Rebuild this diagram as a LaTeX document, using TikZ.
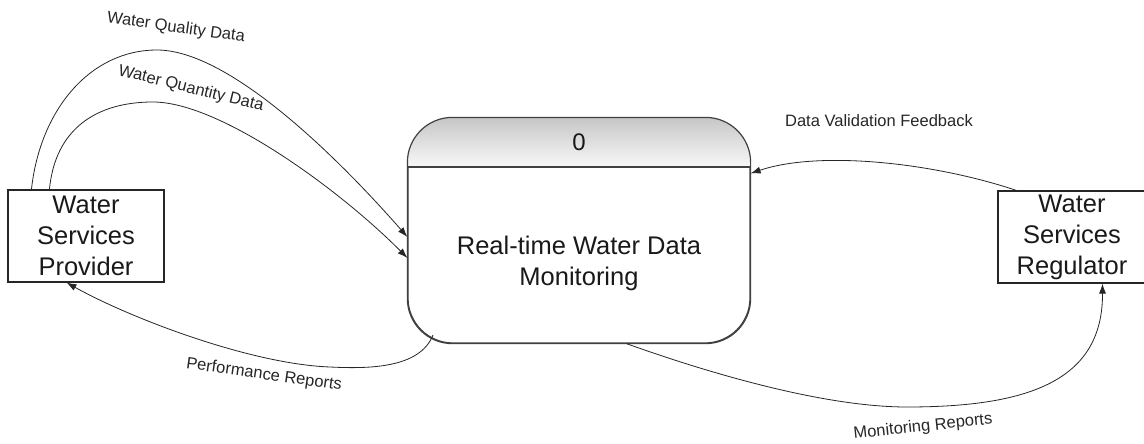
\documentclass[tikz,border=0pt]{standalone}
\usepackage{fontspec}
\setmainfont{Liberation Sans}
\usetikzlibrary{arrows.meta,calc}

\tikzset{
  entity/.style={draw=black!85, line width=1.1pt, inner sep=0pt,
    minimum height=92pt, align=center,
    font=\fontsize{25.5}{31}\selectfont, text=black!90},
  procbox/.style={draw=black!75, line width=1.2pt, rounded corners=45pt,
    inner sep=0pt, minimum width=342pt, minimum height=225pt},
  flow/.style={line width=0.8pt, draw=black!85,
    -{Latex[length=10pt,width=7pt]}},
  flowlabel/.style={font=\fontsize{16.5}{19}\selectfont, text=black!85,
    inner sep=0pt},
}

\begin{document}
\begin{tikzpicture}[x=1pt,y=-1pt]
\useasboundingbox (0,0) rectangle (1144,444);

% external entities
\node[entity, minimum width=156pt] (prov) at (86,236) {Water\\Services\\Provider};
\node[entity, minimum width=148pt] (reg) at (1072,237) {Water\\Services\\Regulator};

% process box with shaded header
\node[procbox] (proc) at (579,230.5) {};
\begin{scope}
  \clip[rounded corners=45pt] (proc.north west) rectangle (proc.south east);
  \shade[top color=black!22, bottom color=black!3]
    (proc.north west) rectangle (proc.north east |- 0,167);
\end{scope}
\draw[black!75, line width=1.2pt, rounded corners=45pt]
  (proc.north west) rectangle (proc.south east);
\draw[black!75, line width=1.2pt] (proc.west |- 0,167) -- (proc.east |- 0,167);
\node[font=\fontsize{24}{28}\selectfont, text=black!90] (pid) at (579,142.5) {0};
\node[font=\fontsize{25.5}{31}\selectfont, text=black!90, align=center]
  (ptext) at (579,263) {Real-time Water Data\\Monitoring};

% data flows
\draw[flow] ($(prov.north west)+(24,0)$)
  .. controls (40,110) and (90,50) .. (157,50)
  .. controls (230,50) and (340,160) .. ($(proc.west)+(0,6.5)$);
\draw[flow] ($(prov.north west)+(42,0)$)
  .. controls (55,130) and (95,102) .. (153,102)
  .. controls (220,102) and (340,190) .. ($(proc.west)+(0,27.5)$);
\draw[flow] (433,335)
  .. controls (420,368) and (370,369) .. (330,367)
  .. controls (250,364) and (130,318) .. ($(prov.south west)+(59,0)$);
\draw[flow] ($(proc.south west)+(219,0)$)
  .. controls (700,370) and (820,407) .. (907,407)
  .. controls (1030,407) and (1103,380) .. ($(reg.south west)+(105,0)$);
\draw[flow] ($(reg.north west)+(19,0)$)
  .. controls (935,163) and (820,150) .. ($(proc.north east)+(0,56)$);

% flow labels
\node[flowlabel, rotate=-8] (lq) at (176,28) {Water Quality Data};
\node[flowlabel, rotate=-14] (lqt) at (191,89) {Water Quantity Data};
\node[flowlabel] (lv) at (879,121) {Data Validation Feedback};
\node[flowlabel, rotate=-8] (lp) at (264,375) {Performance Reports};
\node[flowlabel, rotate=6] (lm) at (923,427) {Monitoring Reports};
\end{tikzpicture}
\end{document}
